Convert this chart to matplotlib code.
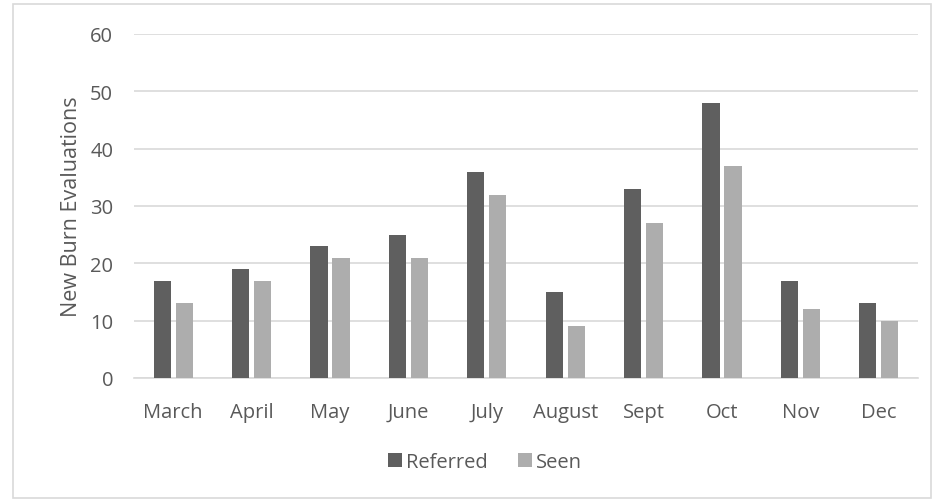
import matplotlib
matplotlib.use("Agg")
import matplotlib.pyplot as plt
import numpy as np
from matplotlib.patches import Rectangle

months = ["March", "April", "May", "June", "July", "August", "Sept", "Oct", "Nov", "Dec"]
referred = [17, 19, 23, 25, 36, 15, 33, 48, 17, 13]
seen = [13, 17, 21, 21, 32, 9, 27, 37, 12, 10]

plt.rcParams['font.family'] = ['Open Sans', 'DejaVu Sans']
text_color = "#595959"

fig = plt.figure(figsize=(9.32, 5.02), dpi=100)
ax = fig.add_axes([134 / 932, 1 - 379 / 502, (918 - 134) / 932, 344 / 502])

# outer chart frame
fig.patches.append(Rectangle((13 / 932, 3 / 502), 918 / 932, 494 / 502,
                             transform=fig.transFigure, fill=False,
                             edgecolor="#d9d9d9", linewidth=1.2))

x = np.arange(len(months))
w = 0.22
ax.bar(x - 0.14, referred, w, color="#5f5f5f", label="Referred", zorder=3)
ax.bar(x + 0.14, seen, w, color="#adadad", label="Seen", zorder=3)

ax.set_xlim(-0.5, len(months) - 0.5)
ax.set_ylim(0, 60)
ax.set_yticks(range(0, 61, 10))
ax.set_xticks(x)
ax.set_xticklabels(months)
ax.yaxis.grid(True, color="#d9d9d9", linewidth=1.2, zorder=0)
for s in ["top", "right", "left"]:
    ax.spines[s].set_visible(False)
ax.spines["bottom"].set_color("#d9d9d9")
ax.spines["bottom"].set_linewidth(1.2)
ax.tick_params(axis="both", length=0, labelsize=14.5, colors=text_color)
ax.tick_params(axis="x", pad=17)
ax.tick_params(axis="y", pad=15)
ax.set_ylabel("New Burn Evaluations", fontsize=15.5, color=text_color, labelpad=6)

leg = fig.legend(loc="center", bbox_to_anchor=(485 / 932, 1 - 463 / 502), ncol=2,
                 frameon=False, fontsize=14.5, handlelength=0.7, handleheight=0.7,
                 handletextpad=0.2, columnspacing=1.5)
for t in leg.get_texts():
    t.set_color(text_color)

fig.savefig("out.png", dpi=100)
